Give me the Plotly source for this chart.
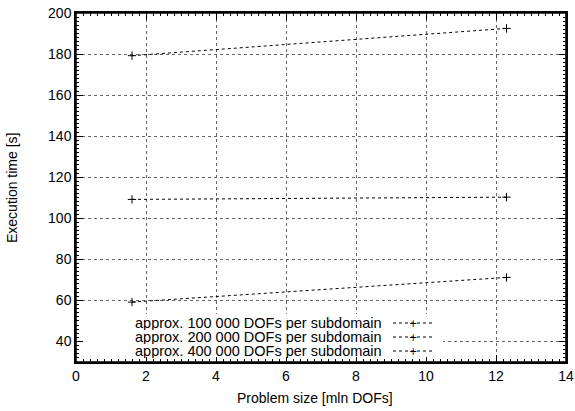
import plotly.graph_objects as go

problem_size = [1.6, 12.3]
series_names = [
    "approx. 100 000 DOFs per subdomain",
    "approx. 200 000 DOFs per subdomain",
    "approx. 400 000 DOFs per subdomain",
]
times_100k = [59.2, 71.2]
times_200k = [109.2, 110.3]
times_400k = [179.2, 192.5]
x_ticks = [0, 2, 4, 6, 8, 10, 12, 14]
y_ticks = [40, 60, 80, 100, 120, 140, 160, 180, 200]
x_title = "Problem size [mln DOFs]"
y_title = "Execution time [s]"

W, H = 575, 411
L, R, T, B = 76, 566, 13, 362
pw, ph = R - L, B - T

def px(x):
    return (x - L) / pw

def py(y):
    return (B - y) / ph

fig = go.Figure()
for name, vals in zip(series_names, [times_100k, times_200k, times_400k]):
    fig.add_trace(go.Scatter(
        x=problem_size, y=vals, name=name, mode="lines+markers",
        line=dict(color="black", width=1, dash="dot"),
        marker=dict(symbol="cross-thin", size=6, line=dict(color="black", width=1)),
        showlegend=False, hoverinfo="skip",
    ))

font = dict(family="Liberation Sans, Arial, sans-serif", size=14, color="black")
lfont = dict(family="Liberation Sans, Arial, sans-serif", size=14.5, color="black")

axis_common = dict(
    showline=True, linecolor="black", linewidth=1.5, mirror="allticks",
    ticks="inside", ticklen=7, tickwidth=1.2, tickcolor="black",
    showgrid=True, gridcolor="#666", griddash="dot", gridwidth=1,
    zeroline=False, tickfont=font, automargin=False, layer="above traces",
)

fig.update_layout(
    width=W, height=H,
    margin=dict(l=L, r=W - R, t=T, b=H - B, autoexpand=False),
    paper_bgcolor="white", plot_bgcolor="white",
    font=font,
    xaxis=dict(range=[0, 14], tickvals=x_ticks, ticktext=[str(v) for v in x_ticks],
               minor=dict(ticks="inside", dtick=0.2, ticklen=3, tickcolor="black", tickwidth=1.2, showgrid=False),
               **axis_common),
    yaxis=dict(range=[30, 200], tickvals=y_ticks, ticktext=[str(v) for v in y_ticks],
               minor=dict(ticks="inside", dtick=2, ticklen=3, tickcolor="black", tickwidth=1.2, showgrid=False),
               **axis_common),
)

shapes = [
    dict(type="rect", xref="paper", yref="paper",
         x0=px(83), x1=px(443), y0=py(357), y1=py(314),
         fillcolor="white", line=dict(width=0), layer="above"),
    dict(type="rect", xref="paper", yref="paper", x0=0, x1=1, y0=0, y1=1,
         fillcolor="rgba(0,0,0,0)", line=dict(color="black", width=1.5), layer="above"),
]
annotations = [
    dict(xref="paper", yref="paper", x=px(315), y=py(398), text=x_title, showarrow=False,
         xanchor="center", yanchor="middle", font=font),
    dict(xref="paper", yref="paper", x=px(12), y=py(188), text=y_title, showarrow=False,
         xanchor="center", yanchor="middle", textangle=-90, font=font),
]
rows_y = [323, 337, 351]
for name, yy in zip(series_names, rows_y):
    annotations.append(dict(xref="paper", yref="paper", x=px(384), y=py(yy),
                            text=name, showarrow=False, xanchor="right", yanchor="middle",
                            font=lfont, height=14))
    shapes.append(dict(type="line", xref="paper", yref="paper",
                       x0=px(393), x1=px(433), y0=py(yy), y1=py(yy),
                       line=dict(color="black", width=1, dash="dot"), layer="above"))
    annotations.append(dict(xref="paper", yref="paper", x=px(413), y=py(yy),
                            text="+", showarrow=False, xanchor="center", yanchor="middle",
                            font=dict(family="DejaVu Sans", size=10, color="black")))
fig.update_layout(shapes=shapes, annotations=annotations)

fig.write_html("out.html", config={"displayModeBar": False},
               post_script="document.body.style.margin='0px';")
